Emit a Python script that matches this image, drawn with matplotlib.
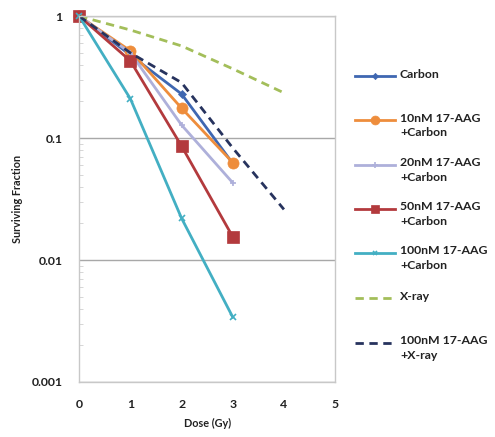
import numpy as np
import matplotlib.pyplot as plt
from matplotlib.lines import Line2D
from matplotlib.ticker import LogLocator, NullFormatter, FixedLocator

plt.rcParams['font.family'] = ['Lato', 'DejaVu Sans']

# Dose points (Gy)
dose_carbon = [0, 1, 2, 3]
dose_xray = [0, 1, 2, 3, 4]

# Surviving fractions
sf_carbon = [1.0, 0.48, 0.23, 0.062]
sf_10nm = [1.0, 0.52, 0.176, 0.063]
sf_20nm = [1.0, 0.50, 0.128, 0.043]
sf_50nm = [1.0, 0.43, 0.086, 0.0155]
sf_100nm = [1.0, 0.21, 0.022, 0.0034]
sf_xray = [1.0, 0.77, 0.57, 0.37, 0.235]
sf_100nm_xray = [1.0, 0.50, 0.285, 0.083, 0.026]

labels = ["Carbon", "10nM 17-AAG\n+Carbon", "20nM 17-AAG\n+Carbon",
          "50nM 17-AAG\n+Carbon", "100nM 17-AAG\n+Carbon", "X-ray",
          "100nM 17-AAG\n+X-ray"]

series = [
    (dose_carbon, sf_carbon, dict(color='#3F67B1', marker='D', ms=4, ls='-')),
    (dose_carbon, sf_10nm, dict(color='#EE8D3C', marker='o', ms=8, ls='-')),
    (dose_carbon, sf_20nm, dict(color='#AEB0DA', marker='+', ms=5, ls='-')),
    (dose_carbon, sf_50nm, dict(color='#B33A3D', marker='s', ms=8, ls='-')),
    (dose_carbon, sf_100nm, dict(color='#43AFC3', marker='x', ms=4, ls='-')),
    (dose_xray, sf_xray, dict(color='#A3BE5A', marker=None, ms=0, ls=(0, (3, 2)))),
    (dose_xray, sf_100nm_xray, dict(color='#27335E', marker=None, ms=0, ls=(0, (3, 2)))),
]

fig = plt.figure(figsize=(4.95, 4.37), dpi=100)
ax = fig.add_axes([0.160, 0.126, 0.517, 0.837])

for x, y, st in series:
    ax.plot(x, y, color=st['color'], marker=st['marker'], markersize=st['ms'],
            linestyle=st['ls'], linewidth=2, markeredgewidth=1.2 if st['marker'] in ('+', 'x') else 0.5,
            markeredgecolor=st['color'], clip_on=False)

ax.set_yscale('log')
ax.set_ylim(0.001, 1)
ax.set_xlim(0, 5)
ax.yaxis.set_major_locator(FixedLocator([0.001, 0.01, 0.1, 1]))
ax.set_yticklabels(['0.001', '0.01', '0.1', '1'])
ax.yaxis.set_minor_locator(LogLocator(base=10, subs=np.arange(2, 10)))
ax.yaxis.set_minor_formatter(NullFormatter())
ax.set_xticks([0, 1, 2, 3, 4, 5])
ax.grid(True, axis='y', which='major', color='#A8A8A8', linewidth=1)

for s in ax.spines.values():
    s.set_color('#C8C8C8')
    s.set_linewidth(1)

ax.tick_params(axis='both', which='major', length=0, labelsize=8.8, pad=12, labelcolor='#222222')
ax.tick_params(axis='y', which='minor', direction='in', length=3, color='#D0D0D0')
for lab in ax.get_xticklabels() + ax.get_yticklabels():
    lab.set_fontweight('bold')

ax.set_xlabel('Dose (Gy)', fontsize=7.8, fontweight='bold', labelpad=6, color='#222222')
ax.set_ylabel('Surviving Fraction', fontsize=7.8, fontweight='bold', labelpad=6, color='#222222')

# Legend drawn at the right side, handle aligned with the first text line
W, H = 495, 437
legend_y = [76, 120, 165, 209, 253, 298, 343]
for (x, y, st), lab, ly in zip(series, labels, legend_y):
    yf = 1 - ly / H
    fig.add_artist(Line2D([355 / W, 395 / W], [yf, yf], transform=fig.transFigure,
                          color=st['color'], linestyle=st['ls'], linewidth=2))
    if st['marker']:
        fig.add_artist(Line2D([375 / W], [yf], transform=fig.transFigure,
                              color=st['color'], marker=st['marker'],
                              markersize=st['ms'] * 0.8, linestyle='none',
                              markeredgecolor=st['color'],
                              markeredgewidth=1.2 if st['marker'] in ('+', 'x') else 0.5))
    fig.text(400 / W, yf + 7.5 / H, lab, fontsize=8.8, fontweight='bold', color='#222222',
             va='top', ha='left', linespacing=1.4, transform=fig.transFigure)

fig.savefig('out.png', dpi=100)
